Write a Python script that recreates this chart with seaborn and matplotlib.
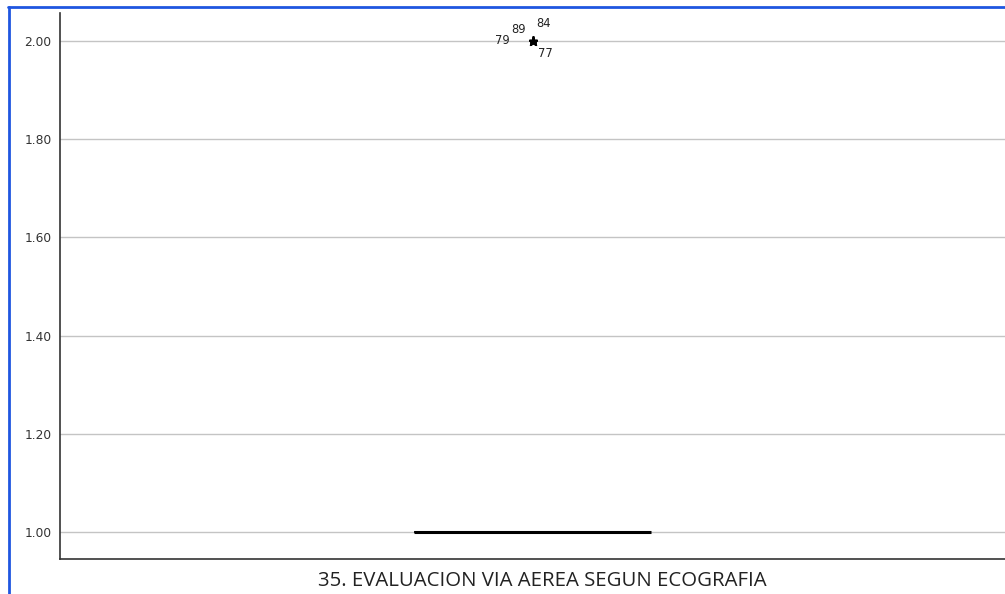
import numpy as np
import pandas as pd
import matplotlib
matplotlib.use("Agg")
import matplotlib.pyplot as plt
from matplotlib.lines import Line2D
import seaborn as sns

# Scores of item 35 and how many cases gave each one
score_levels = [1, 2]
score_counts = [92, 4]
# Cases flagged as extreme values (score 2)
extreme_cases = [79, 89, 84, 77]
y_ticks = [1.00, 1.20, 1.40, 1.60, 1.80, 2.00]
axis_title = "35. EVALUACION VIA AEREA SEGUN ECOGRAFIA"

scores = np.repeat(score_levels, score_counts)
df = pd.DataFrame({"score": scores, "grupo": [""] * len(scores)})

sns.set_style("white")
plt.rcParams["font.family"] = ["DejaVu Sans"]

fig = plt.figure(figsize=(10.05, 5.94), dpi=100)
ax = fig.add_axes([60 / 1005, 35 / 594, 945 / 1005, 546 / 594])

sns.boxplot(
    data=df, x="grupo", y="score", ax=ax, width=0.25,
    color="white", linewidth=1.2, linecolor="black",
    medianprops=dict(color="black", linewidth=2.2),
    flierprops=dict(marker="*", markersize=6.5, markerfacecolor="black",
                    markeredgecolor="black"),
    whis=1.5,
)

# Case number labels around the extreme point
offsets = {79: (-27, -2.5), 89: (-15, 5.5), 84: (3, 10), 77: (4, -11.5)}
for case in extreme_cases:
    ax.annotate(str(case), xy=(0, 2.0), xytext=offsets[case],
                textcoords="offset points", fontsize=8.3, color="#222222")

ax.set_ylim(0.945, 2.057)
ax.set_xlim(-0.5, 0.5)
ax.set_yticks(y_ticks)
ax.set_yticklabels([f"{t:.2f}" for t in y_ticks], fontsize=8.8, color="#333333")
ax.yaxis.grid(True, color="#c4c4c4", linewidth=1)
ax.set_axisbelow(True)
ax.tick_params(axis="y", length=0, pad=6)
ax.set_xticks([])
ax.set_ylabel("")
ax.set_xlabel(axis_title, fontsize=14.7, color="#222222",
              family=["Open Sans", "DejaVu Sans"])
ax.xaxis.set_label_coords(0.51, -0.022, transform=ax.transAxes)
ax.xaxis.label.set_verticalalignment("top")

for side in ["top", "right"]:
    ax.spines[side].set_visible(False)
for side in ["left", "bottom"]:
    ax.spines[side].set_color("#333333")
    ax.spines[side].set_linewidth(1.2)

# Blue selection frame along the top and left edges
frame_color = "#1f56e0"
fig.add_artist(Line2D([8.5 / 1005, 8.5 / 1005], [0, 1 - 7 / 594],
                      transform=fig.transFigure, color=frame_color, linewidth=2))
fig.add_artist(Line2D([8 / 1005, 1], [1 - 7 / 594, 1 - 7 / 594],
                      transform=fig.transFigure, color=frame_color, linewidth=2))

fig.savefig("out.png", dpi=100)
